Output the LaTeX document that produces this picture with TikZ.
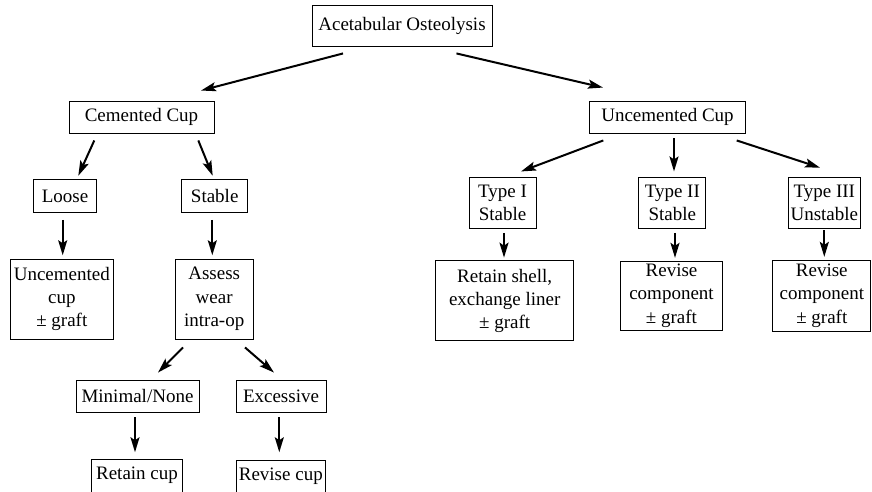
\documentclass[tikz,border=0pt]{standalone}
\usepackage{fontspec}
\setmainfont{Liberation Serif}
\usetikzlibrary{arrows.meta,calc}
\tikzset{%
  box/.style  = {shape=rectangle, draw, line width=0.9pt, inner sep=0pt,%
                 align=center, font=\fontsize{19}{23.3}\selectfont},%
  flow/.style = {line width=2pt, -{Stealth[length=15pt,width=9pt,inset=3pt]}}%
}

\begin{document}
\begin{tikzpicture}[x=1pt,y=-1pt]%
	\useasboundingbox (0,0) rectangle (872,491);
	% top levels
	\node[box,minimum width=180,minimum height=41] (root) at (402,25.5) {Acetabular Osteolysis};
	\node[box,minimum width=145,minimum height=32] (cem)  at (141.5,117) {Cemented Cup};
	\node[box,minimum width=156,minimum height=32] (unc)  at (667.5,117) {Uncemented Cup};
	% cemented side
	\node[box,minimum width=63,minimum height=33]  (loose)   at (65,196)    {Loose};
	\node[box,minimum width=66,minimum height=33]  (stable)  at (214.7,196) {Stable};
	\node[box,minimum width=103,minimum height=80] (ucup)    at (61.8,299)  {Uncemented\\cup\\± graft};
	\node[box,minimum width=78,minimum height=80]  (assess)  at (214.2,299) {Assess\\wear\\intra-op};
	\node[box,minimum width=123,minimum height=32] (minimal) at (137.5,396) {Minimal/None};
	\node[box,minimum width=90,minimum height=32]  (excess)  at (281,396)   {Excessive};
	\node[box,minimum width=91,minimum height=33]  (retain)  at (137,475.5) {Retain cup};
	\node[box,minimum width=89,minimum height=33]  (revise)  at (280.8,476.5) {Revise cup};
	% uncemented side
	\node[box,minimum width=67,minimum height=51]  (typeI)   at (502.5,203) {Type I\\Stable};
	\node[box,minimum width=67,minimum height=51]  (typeII)  at (672.3,203) {Type II\\Stable};
	\node[box,minimum width=72,minimum height=51]  (typeIII) at (824.3,203) {Type III\\Unstable};
	\node[box,minimum width=138,minimum height=80] (shell)   at (504.7,300.8) {Retain shell,\\exchange liner\\± graft};
	\node[box,minimum width=102,minimum height=69] (revII)   at (671.5,295.5) {Revise\\component\\± graft};
	\node[box,minimum width=98,minimum height=71]  (revIII)  at (821.8,295.5) {Revise\\component\\± graft};
	% arrows
	\draw[flow] ($(root.south)+(-59,7)$)    -- ($(cem.north)+(59.5,-10)$);
	\draw[flow] ($(root.south)+(54.5,7)$)   -- ($(unc.north)+(-64.5,-13)$);
	\draw[flow] ($(cem.south)+(-47.2,7)$)   -- ($(loose.north)+(13.3,-3.3)$);
	\draw[flow] ($(cem.south)+(56.8,7)$)    -- ($(stable.north)+(-2,-3.3)$);
	\draw[flow] ($(loose.south)+(-2.3,7)$)  -- ($(ucup.north)+(0.9,-3.3)$);
	\draw[flow] ($(stable.south)+(-2.4,7)$) -- ($(assess.north)+(-1.9,-3.3)$);
	\draw[flow] ($(assess.south)+(-31.2,8)$) -- ($(minimal.north)+(20.5,-7)$);
	\draw[flow] ($(assess.south)+(30.8,8)$)  -- ($(excess.north)+(-7,-7)$);
	\draw[flow] ($(minimal.south)+(-2.5,4.7)$) -- ($(retain.north)+(-2,-6.3)$);
	\draw[flow] ($(excess.south)+(-1.7,4.7)$)  -- ($(revise.north)+(-1.5,-7.3)$);
	\draw[flow] ($(unc.south)+(-64.2,7)$)  -- ($(typeI.north)+(18.5,-5.6)$);
	\draw[flow] ($(unc.south)+(6.5,4.7)$)  -- ($(typeII.north)+(1.7,-5.6)$);
	\draw[flow] ($(unc.south)+(69.2,7)$)   -- ($(typeIII.north)+(-4.3,-9.4)$);
	\draw[flow] ($(typeI.south)+(1.5,4)$)   -- ($(shell.north)+(-0.7,-2.7)$);
	\draw[flow] ($(typeII.south)+(2.7,4)$)  -- ($(revII.north)+(3.5,-2.7)$);
	\draw[flow] ($(typeIII.south)+(0,1.3)$) -- ($(revIII.north)+(2.5,-2.7)$);
\end{tikzpicture}
\end{document}
